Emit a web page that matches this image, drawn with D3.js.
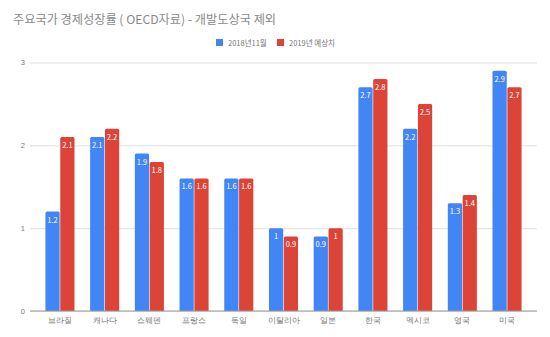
<!DOCTYPE html>
<html>
<head>
<meta charset="utf-8">
<script src="https://cdn.jsdelivr.net/npm/d3@7"></script>
<style>
  body { margin: 0; background: #fff; }
  svg { display: block; font-family: "Noto Sans CJK KR", "Noto Sans", sans-serif; }
</style>
</head>
<body>
<svg id="chart" width="550" height="337"></svg>
<script>
// 국가별 경제성장률 (OECD, 2018년 11월 전망)
const countries = ["브라질", "캐나다", "스웨덴", "프랑스", "독일", "이탈리아", "일본", "한국", "멕시코", "영국", "미국"];
const growth2018 = [1.2, 2.1, 1.9, 1.6, 1.6, 1, 0.9, 2.7, 2.2, 1.3, 2.9];
const growth2019 = [2.1, 2.2, 1.8, 1.6, 1.6, 0.9, 1, 2.8, 2.5, 1.4, 2.7];
const seriesNames = ["2018년11월", "2019년 예상치"];
const seriesColors = ["#4285f4", "#db4437"];
const yTicks = [0, 1, 2, 3];

const svg = d3.select("#chart");
const margin = { left: 30, right: 13, top: 62.5, bottom: 26 };
const W = 550, H = 337;

const x = d3.scaleBand().domain(countries)
  .range([margin.left, W - margin.right])
  .paddingInner(0.35).paddingOuter(0.345);
const x1 = d3.scaleBand().domain([0, 1]).range([0, x.bandwidth()]).paddingInner(0.04);
const y = d3.scaleLinear().domain([0, 3]).range([H - margin.bottom, margin.top]);

// 제목
svg.append("text").attr("x", 13).attr("y", 24)
  .attr("fill", "#8a8a8a").attr("font-size", 12.2)
  .text("주요국가 경제성장률 ( OECD자료) - 개발도상국 제외");

// 범례
const legend = svg.append("g").attr("font-size", 7.5);
const legendX = [216, 277];
seriesNames.forEach((name, i) => {
  legend.append("rect").attr("x", legendX[i]).attr("y", 39).attr("width", 7).attr("height", 7)
    .attr("fill", seriesColors[i]);
  legend.append("text").attr("x", legendX[i] + 12).attr("y", 45.5).attr("fill", "#777").text(name);
});

// 격자선 및 y축 눈금
const yAxis = d3.axisLeft(y).tickValues(yTicks).tickFormat(d3.format("d"))
  .tickSize(-(W - margin.left - margin.right)).tickPadding(5);
const gy = svg.append("g").attr("transform", `translate(${margin.left},0)`).call(yAxis);
gy.select(".domain").remove();
gy.selectAll(".tick line").attr("stroke", "#e0e0e0");
gy.selectAll(".tick text").attr("fill", "#777").attr("font-size", 7.5);

// 막대
const rows = countries.map((c, i) => ({ c, v: [growth2018[i], growth2019[i]] }));
const groups = svg.append("g").selectAll("g").data(rows).join("g")
  .attr("transform", d => `translate(${x(d.c)},0)`);

groups.selectAll("path").data(d => d.v.map((v, k) => ({ v, k }))).join("path")
  .attr("fill", d => seriesColors[d.k])
  .attr("d", d => {
    const x0 = x1(d.k), w = x1.bandwidth(), y0 = y(d.v), yb = y(0), r = 1.5;
    return `M${x0},${yb}V${y0 + r}Q${x0},${y0} ${x0 + r},${y0}H${x0 + w - r}Q${x0 + w},${y0} ${x0 + w},${y0 + r}V${yb}Z`;
  });

groups.selectAll("text").data(d => d.v.map((v, k) => ({ v, k }))).join("text")
  .attr("x", d => x1(d.k) + x1.bandwidth() / 2)
  .attr("y", d => y(d.v) + 11)
  .attr("text-anchor", "middle")
  .attr("fill", "#fff").attr("font-size", 7.5)
  .text(d => d.v);

// x축
const xAxis = d3.axisBottom(x).tickSize(0).tickPadding(7);
const gx = svg.append("g").attr("transform", `translate(0,${y(0)})`).call(xAxis);
gx.select(".domain").attr("stroke", "#999").attr("d", `M${margin.left},0H${W - margin.right}`);
gx.selectAll(".tick text").attr("fill", "#777").attr("font-size", 7.5);
</script>
</body>
</html>
